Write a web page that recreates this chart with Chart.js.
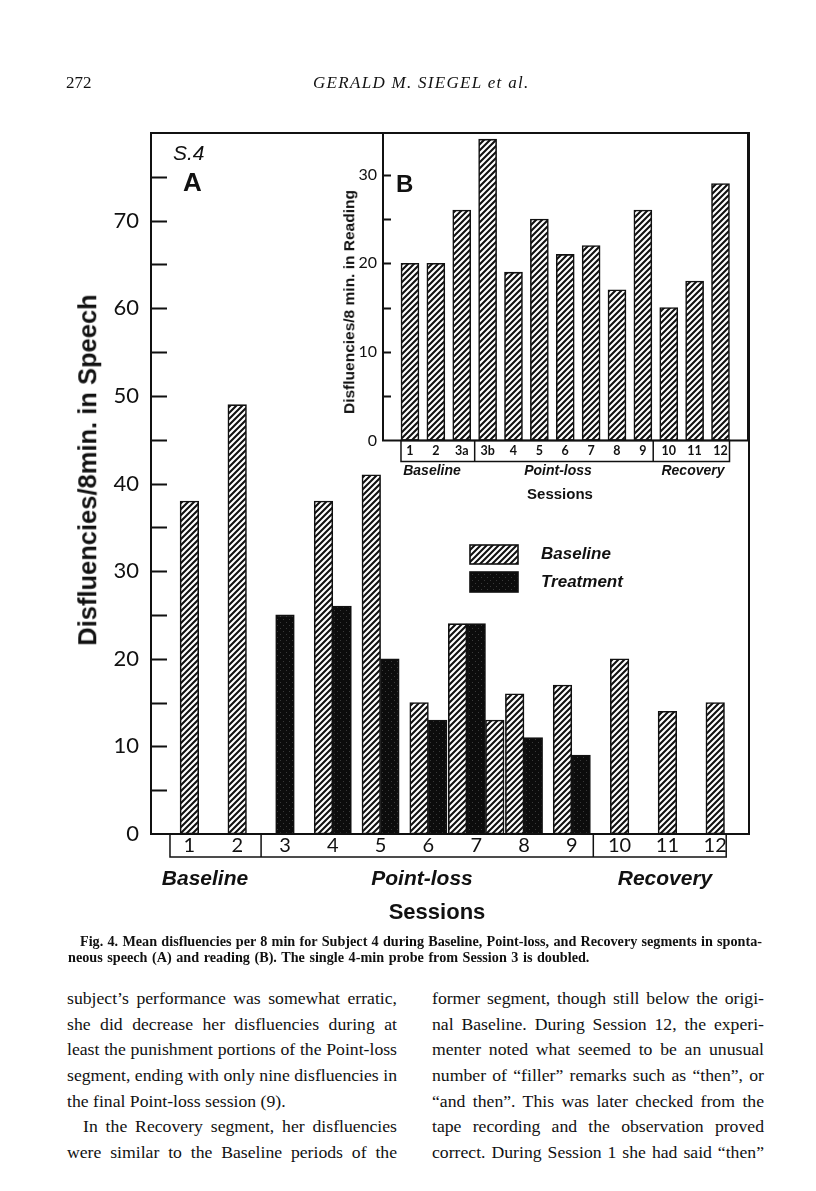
<!DOCTYPE html>
<html>
<head>
<meta charset="utf-8">
<script src="https://cdn.jsdelivr.net/npm/chart.js@4.4.1/dist/chart.umd.min.js"></script>
<style>
html, body { margin: 0; padding: 0; background: #fff; }
#page { position: relative; width: 816px; height: 1191px; overflow: hidden; background: #fff; color: #111; font-family: "Liberation Serif", serif; }
canvas { position: absolute; left: 0; top: 0; }
.t { position: absolute; white-space: nowrap; line-height: 1; }
.c { transform: translate(-50%, -50%); }
.l { transform: translateY(-50%); }
.rot { transform: translate(-50%, -50%) rotate(-90deg); }
.sans { font-family: "Liberation Sans", Arial, sans-serif; font-weight: bold; }
.ital { font-style: italic; }
.ln { position: absolute; white-space: nowrap; text-align: justify; text-align-last: justify; font-size: 17.7px; line-height: 20px; }
.cap { position: absolute; white-space: nowrap; font-size: 14.2px; font-weight: bold; line-height: 16px; }
</style>
</head>
<body>
<div id="page">
  <canvas id="speech" width="816" height="940"></canvas>
  <canvas id="reading" width="816" height="940"></canvas>

  <div class="t l" style="left:66px; top:82px; font-size:17px;">272</div>
  <div class="t l ital" style="left:313px; top:82px; font-size:17px; letter-spacing:1.3px;">GERALD M. SIEGEL et al.</div>

  <div class="t l ital" style="left:173px; top:152px; font-size:21px; font-family:'Liberation Sans',sans-serif;">S.4</div>
  <div class="t l sans" style="left:183px; top:182px; font-size:26px;">A</div>
  <div class="t l sans" style="left:396px; top:184px; font-size:24px;">B</div>

  <div class="t rot sans" style="left:88px; top:470px; font-size:25.5px;">Disfluencies/8min. in Speech</div>
  <div class="t rot sans" style="left:349px; top:302px; font-size:15.5px;">Disfluencies/8 min. in Reading</div>

  <div class="t l sans ital" style="left:541px; top:553px; font-size:17px;">Baseline</div>
  <div class="t l sans ital" style="left:541px; top:581px; font-size:17px;">Treatment</div>

  <div class="t c sans ital" style="left:432px; top:470px; font-size:14px;">Baseline</div>
  <div class="t c sans ital" style="left:558px; top:470px; font-size:14px;">Point-loss</div>
  <div class="t c sans ital" style="left:693px; top:470px; font-size:14px;">Recovery</div>
  <div class="t c sans" style="left:560px; top:493px; font-size:15px;">Sessions</div>

  <div class="t c sans ital" style="left:205px; top:877px; font-size:21px;">Baseline</div>
  <div class="t c sans ital" style="left:422px; top:877px; font-size:21px;">Point-loss</div>
  <div class="t c sans ital" style="left:665px; top:877px; font-size:21px;">Recovery</div>
  <div class="t c sans" style="left:437px; top:912px; font-size:22px;">Sessions</div>

  <div class="cap" style="left:80px; top:933px; width:682px; text-align:justify; text-align-last:justify;">Fig. 4. Mean disfluencies per 8 min for Subject 4 during Baseline, Point-loss, and Recovery segments in sponta-</div>
  <div class="cap" style="left:68px; top:949px; word-spacing:1px;">neous speech (A) and reading (B). The single 4-min probe from Session 3 is doubled.</div>

  <div class="ln" style="left:67px; top:988px; width:330px;">subject’s performance was somewhat erratic,</div>
  <div class="ln" style="left:67px; top:1014px; width:330px;">she did decrease her disfluencies during at</div>
  <div class="ln" style="left:67px; top:1039px; width:330px;">least the punishment portions of the Point-loss</div>
  <div class="ln" style="left:67px; top:1065px; width:330px;">segment, ending with only nine disfluencies in</div>
  <div class="ln" style="left:67px; top:1091px; width:330px; text-align-last:left;">the final Point-loss session (9).</div>
  <div class="ln" style="left:83px; top:1116px; width:314px;">In the Recovery segment, her disfluencies</div>
  <div class="ln" style="left:67px; top:1142px; width:330px;">were similar to the Baseline periods of the</div>

  <div class="ln" style="left:432px; top:988px; width:332px;">former segment, though still below the origi-</div>
  <div class="ln" style="left:432px; top:1014px; width:332px;">nal Baseline. During Session 12, the experi-</div>
  <div class="ln" style="left:432px; top:1039px; width:332px;">menter noted what seemed to be an unusual</div>
  <div class="ln" style="left:432px; top:1065px; width:332px;">number of “filler” remarks such as “then”, or</div>
  <div class="ln" style="left:432px; top:1091px; width:332px;">“and then”. This was later checked from the</div>
  <div class="ln" style="left:432px; top:1116px; width:332px;">tape recording and the observation proved</div>
  <div class="ln" style="left:432px; top:1142px; width:332px;">correct. During Session 1 she had said “then”</div>
</div>

<script>
// panel A: spontaneous speech
var sessions = ['1', '2', '3', '4', '5', '6', '7', '8', '9', '10', '11', '12'];
var speechBaseline = [38, 49, null, 38, 41, 15, 24, 16, 17, 20, 14, 15];
var speechTreatment = [null, null, 25, 26, 20, 13, 24, 11, 9, null, null, null];
var speechBaselineLate = [null, null, null, null, null, null, 13, null, null, null, null, null];
var speechTickLabels = [0, 10, 20, 30, 40, 50, 60, 70];

// panel B: reading
var readingSessions = ['1', '2', '3a', '3b', '4', '5', '6', '7', '8', '9', '10', '11', '12'];
var readingBaseline = [20, 20, 26, 34, 19, 25, 21, 22, 17, 26, 15, 18, 29];
var readingTickLabels = [0, 10, 20, 30];

var ink = '#111';

function hatchPattern() {
    var c = document.createElement('canvas');
    c.width = 6; c.height = 6;
    var g = c.getContext('2d');
    g.fillStyle = '#fff';
    g.fillRect(0, 0, 6, 6);
    g.strokeStyle = ink;
    g.lineWidth = 2.1;
    g.beginPath();
    g.moveTo(-1, 7); g.lineTo(7, -1);
    g.moveTo(-1, 1); g.lineTo(1, -1);
    g.moveTo(5, 7); g.lineTo(7, 5);
    g.stroke();
    return g.createPattern(c, 'repeat');
}

function stipplePattern() {
    var c = document.createElement('canvas');
    c.width = 6; c.height = 6;
    var g = c.getContext('2d');
    g.fillStyle = '#0c0c0c';
    g.fillRect(0, 0, 6, 6);
    g.fillStyle = '#3a3a3a';
    g.fillRect(1, 1, 1, 1);
    g.fillRect(4, 4, 1, 1);
    return g.createPattern(c, 'repeat');
}

var hatch = hatchPattern();
var stipple = stipplePattern();

function toPoints(values) {
    return values.map(function (v, i) { return { x: i, y: v }; });
}

function barSet(label, values, fill, thickness) {
    return {
        label: label,
        data: toPoints(values),
        backgroundColor: fill,
        borderColor: ink,
        borderWidth: 1.6,
        borderSkipped: false,
        skipNull: true,
        barThickness: thickness
    };
}

// frame, inward ticks, session boxes and legend
var framePlugin = {
    id: 'frame',
    afterDraw: function (chart, args, opts) {
        var ctx = chart.ctx, a = chart.chartArea;
        var xs = chart.scales.x, ys = chart.scales.y;
        ctx.save();
        ctx.strokeStyle = ink;
        ctx.lineWidth = 2;
        ctx.strokeRect(a.left, a.top, a.right - a.left, a.bottom - a.top);

        ctx.lineWidth = 1.8;
        ctx.beginPath();
        ys.ticks.forEach(function (t) {
            if (t.value <= ys.min || t.value >= ys.max) return;
            var py = Math.round(ys.getPixelForValue(t.value)) + 0.5;
            ctx.moveTo(a.left, py);
            ctx.lineTo(a.left + opts.tick, py);
        });
        ctx.stroke();

        var n = xs.ticks.length;
        var x0 = xs.getPixelForValue(0) - opts.boxLeft;
        var x1 = xs.getPixelForValue(n - 1) + opts.boxRight;
        ctx.lineWidth = 1.5;
        ctx.strokeRect(x0, a.bottom, x1 - x0, opts.boxH);
        ctx.beginPath();
        opts.dividers.forEach(function (d) {
            var px = xs.getPixelForValue(d);
            ctx.moveTo(px, a.bottom);
            ctx.lineTo(px, a.bottom + opts.boxH);
        });
        ctx.stroke();

        if (opts.legend) {
            chart.data.datasets.slice(0, 2).forEach(function (ds, i) {
                var b = opts.legend[i];
                ctx.fillStyle = ds.backgroundColor;
                ctx.fillRect(b[0], b[1], b[2], b[3]);
                ctx.lineWidth = 1.6;
                ctx.strokeRect(b[0], b[1], b[2], b[3]);
            });
        }
        ctx.restore();
    }
};

function tickText(list) {
    return function (v) { return list.indexOf(v) >= 0 ? String(v) : ''; };
}

new Chart(document.getElementById('speech'), {
    type: 'bar',
    data: {
        datasets: [
            barSet('Baseline', speechBaseline, hatch, 18.6),
            barSet('Treatment', speechTreatment, stipple, 18.6),
            barSet('Baseline (end of session)', speechBaselineLate, hatch, 18.6)
        ]
    },
    options: {
        responsive: false,
        animation: false,
        devicePixelRatio: 1,
        layout: { padding: { left: 0, top: 133, right: 67, bottom: 0 } },
        plugins: {
            legend: { display: false },
            tooltip: { enabled: false },
            frame: { tick: 16, boxLeft: 19.4, boxRight: 11, boxH: 23, dividers: [1.5, 8.45],
                     legend: [[470, 545, 48, 19], [470, 572, 48, 20]] }
        },
        scales: {
            x: {
                type: 'linear', min: -0.803, max: 11.707, offset: false,
                grid: { display: false, drawTicks: false, offset: false },
                border: { display: false },
                afterBuildTicks: function (s) { s.ticks = sessions.map(function (_, i) { return { value: i }; }); },
                afterFit: function (s) { s.height = 106; },
                ticks: {
                    autoSkip: false, maxRotation: 0, padding: 1, color: ink,
                    font: { family: 'Lato', size: 20, lineHeight: 1.05 },
                    callback: function (v) { return sessions[v]; }
                }
            },
            y: {
                min: 0, max: 80,
                grid: { display: false, drawTicks: false },
                border: { display: false },
                afterFit: function (s) { s.width = 151; },
                ticks: {
                    stepSize: 5, padding: 12, color: ink, autoSkip: false,
                    font: { family: 'Lato', size: 22 },
                    callback: tickText(speechTickLabels)
                }
            }
        }
    },
    plugins: [framePlugin]
});

new Chart(document.getElementById('reading'), {
    type: 'bar',
    data: {
        datasets: [ barSet('Baseline', readingBaseline, hatch, 18) ]
    },
    options: {
        responsive: false,
        animation: false,
        devicePixelRatio: 1,
        layout: { padding: { left: 0, top: 133, right: 68, bottom: 0 } },
        plugins: {
            legend: { display: false },
            tooltip: { enabled: false },
            frame: { tick: 8, boxLeft: 9, boxRight: 9, boxH: 21, dividers: [2.5, 9.4] }
        },
        scales: {
            x: {
                type: 'linear', min: -1.043, max: 13.063, offset: false,
                grid: { display: false, drawTicks: false, offset: false },
                border: { display: false },
                afterBuildTicks: function (s) { s.ticks = readingSessions.map(function (_, i) { return { value: i }; }); },
                afterFit: function (s) { s.height = 499.5; },
                ticks: {
                    autoSkip: false, maxRotation: 0, padding: 3, color: ink,
                    font: { family: 'Lato', size: 12.5, weight: 'bold', lineHeight: 1.2 },
                    callback: function (v) { return readingSessions[v]; }
                }
            },
            y: {
                min: 0, max: 34.7,
                grid: { display: false, drawTicks: false },
                border: { display: false },
                afterFit: function (s) { s.width = 383; },
                ticks: {
                    stepSize: 5, includeBounds: false, padding: 6, color: ink, autoSkip: false,
                    font: { family: 'Lato', size: 16 },
                    callback: tickText(readingTickLabels)
                }
            }
        }
    },
    plugins: [framePlugin]
});
</script>
</body>
</html>
